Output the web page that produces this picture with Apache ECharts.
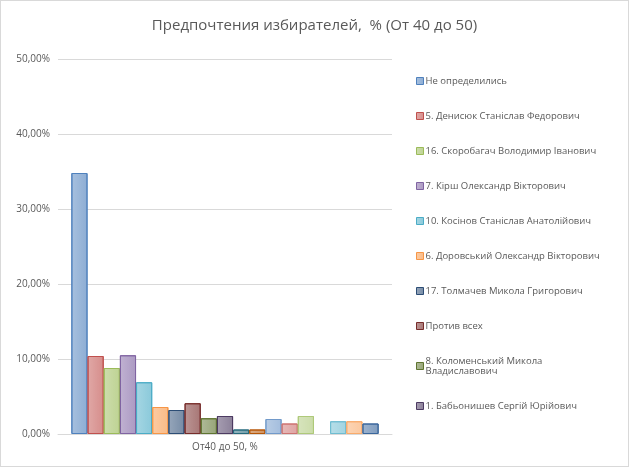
<!DOCTYPE html>
<html>
<head>
<meta charset="utf-8">
<title>chart</title>
<script src="https://cdn.jsdelivr.net/npm/echarts@6/dist/echarts.min.js"></script>
</head>
<body style="margin:0">
<div id="main" style="width:627px;height:465px;border:1px solid #d9d9d9;"></div>
<script type="text/javascript">
var category = ['От40 до 50, %'];
var names = ['Не определились', '5. Денисюк Станіслав Федорович', '16. Скоробагач Володимир Іванович',
  '7. Кірш Олександр Вікторович', '10. Косінов Станіслав Анатолійович', '6. Доровський Олександр Вікторович',
  '17. Толмачев Микола Григорович', 'Против всех', '8. Коломенський Микола\nВладиславович',
  '1. Бабьонишев Сергій Юрійович', 's11', 's12', 's13', 's14', 's15', 's16', 's17', 's18', 's19'];
var values = [34.8, 10.4, 8.8, 10.5, 6.9, 3.6, 3.2, 4.1, 2.1, 2.4, 0.6, 0.6, 2.0, 1.4, 2.4, 0, 1.7, 1.7, 1.4];
var colors = ['#4F81BD', '#C0504D', '#9BBB59', '#8064A2', '#4BACC6', '#F79646',
  '#2C4D75', '#772C2A', '#5F7530', '#4D3B62', '#276A7C', '#B65708',
  '#729ACA', '#CD7371', '#AFC97A', '#9983B5', '#6FBDD1', '#F9AB6B', '#3A679C'];

// blend a colour toward white
function soften(hex, k) {
    var n = parseInt(hex.slice(1), 16);
    var r = n >> 16, g = (n >> 8) & 255, b = n & 255;
    function m(c) { return Math.round(c + (255 - c) * k); }
    return 'rgb(' + m(r) + ',' + m(g) + ',' + m(b) + ')';
}

var myChart = echarts.init(document.getElementById('main'));

var series = names.map(function (n, i) {
    return {
        name: n,
        type: 'bar',
        barGap: '0%',
        barCategoryGap: '8%',
        data: [values[i]],
        itemStyle: {
            color: new echarts.graphic.LinearGradient(0, 0, 1, 0, [
                { offset: 0, color: soften(colors[i], 0.5) },
                { offset: 1, color: soften(colors[i], 0.35) }
            ]),
            borderColor: values[i] ? colors[i] : 'transparent',
            borderWidth: 1
        }
    };
});

myChart.setOption({
    color: colors.map(function (c) { return soften(c, 0.35); }),
    title: {
        text: 'Предпочтения избирателей,  % (От 40 до 50)',
        left: 'center', top: 12,
        textStyle: { color: '#595959', fontSize: 15, fontWeight: 'normal', fontFamily: 'Open Sans' }
    },
    legend: {
        data: names.slice(0, 10),
        orient: 'vertical',
        left: 410, top: 70,
        itemWidth: 7, itemHeight: 7, itemGap: 25,
        icon: 'rect',
        itemStyle: { borderWidth: 1, borderColor: 'inherit' },
        textStyle: { color: '#595959', fontSize: 9.5, fontFamily: 'Open Sans', padding: [0, 0, 0, -3] }
    },
    grid: { left: 57, right: 236, top: 58, bottom: 32 },
    xAxis: {
        type: 'category',
        data: category,
        axisLine: { lineStyle: { color: '#d9d9d9' } },
        axisTick: { show: false },
        axisLabel: { color: '#595959', fontSize: 10, fontFamily: 'Open Sans', margin: 8 }
    },
    yAxis: {
        type: 'value',
        min: 0, max: 50, interval: 10,
        axisLabel: {
            color: '#595959', fontSize: 10, fontFamily: 'Open Sans',
            formatter: function (v) { return v.toFixed(2).replace('.', ',') + '%'; }
        },
        splitLine: { lineStyle: { color: '#d9d9d9' } }
    },
    series: series
});
</script>
</body>
</html>
